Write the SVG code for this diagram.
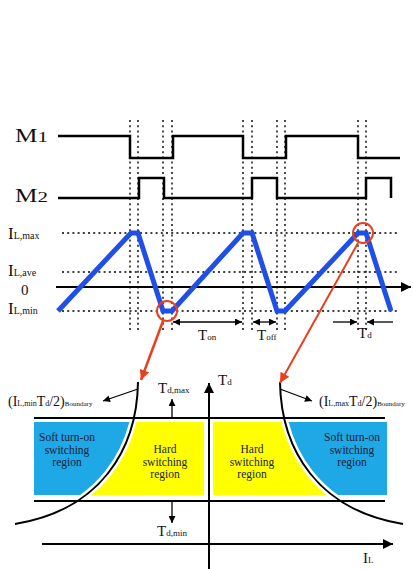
<svg xmlns="http://www.w3.org/2000/svg" width="413" height="569" viewBox="0 0 413 569">
<style>
text{font-family:"Liberation Serif","Times New Roman",serif;fill:#111}
.big{font-size:17px}
.sub{font-size:10px}
.rt{font-size:11.5px;fill:#1a1a3a;text-anchor:middle}
.sig{fill:none;stroke:#000;stroke-width:2.5}
.dot{fill:none;stroke:#000;stroke-width:1.4;stroke-dasharray:2 3.2}
.ln{fill:none;stroke:#000;stroke-width:2}
.thin{fill:none;stroke:#000;stroke-width:1.3}
</style>
<defs>
<marker id="ahs" viewBox="0 0 10 10" refX="10" refY="5" markerWidth="9" markerHeight="7" markerUnits="userSpaceOnUse" orient="auto-start-reverse"><path d="M0,0 L10,5 L0,10 z" fill="#000"/></marker>
<marker id="ahb" viewBox="0 0 10 10" refX="10" refY="5" markerWidth="14" markerHeight="10" markerUnits="userSpaceOnUse" orient="auto"><path d="M0,0 L10,5 L0,10 z" fill="#000"/></marker>
<marker id="ahr" viewBox="0 0 10 10" refX="10" refY="5" markerWidth="13" markerHeight="10" markerUnits="userSpaceOnUse" orient="auto"><path d="M0,0 L10,5 L0,10 z" fill="#e8401f"/></marker>
<clipPath id="clipL"><rect x="34" y="422" width="170" height="73"/></clipPath>
<clipPath id="clipR"><rect x="213" y="422" width="174" height="73"/></clipPath>
</defs>

<g id="timing-guides">
<path class="dot" d="M130 120V332M138 120V332M163 120V332M172 120V332M243 120V332M252 120V332M277 120V332M285 120V332M358 120V332M366 120V332"/>
<path class="dot" d="M62 233H400M62 272H400M62 311H400"/>
</g>

<g id="M1">
<text x="15" y="142" textLength="33" lengthAdjust="spacingAndGlyphs"><tspan font-size="18">M</tspan><tspan font-size="15">1</tspan></text>
<path class="sig" d="M58 136H130V158H173V136H243V158H286V136H358V158H400"/>
</g>
<g id="M2">
<text x="15" y="202" textLength="33" lengthAdjust="spacingAndGlyphs"><tspan font-size="18">M</tspan><tspan font-size="15">2</tspan></text>
<path class="sig" d="M58 198H139V178H164V198H252V178H277V198H366V178H391V198"/>
</g>

<g id="current-axis">
<line class="ln" x1="56" y1="287" x2="411" y2="287" stroke-width="3" marker-end="url(#ahb)"/>
<text x="8" y="239"><tspan class="big">I</tspan><tspan class="sub">L,max</tspan></text>
<text x="8" y="276"><tspan class="big">I</tspan><tspan class="sub">L,ave</tspan></text>
<text x="21" y="295" font-size="15">0</text>
<text x="8" y="314"><tspan class="big">I</tspan><tspan class="sub">L,min</tspan></text>
</g>

<g id="inductor-current">
<polyline points="58,311 131,233 138,233 163,311 172,311 243,233 252,233 277,311 285,311 358,233 366,233 391,311" fill="none" stroke="#1f4fe6" stroke-width="5"/>
</g>

<g id="time-markers">
<line class="thin" x1="173" y1="322" x2="242" y2="322" marker-start="url(#ahs)" marker-end="url(#ahs)"/>
<text x="198" y="340"><tspan font-size="15">T</tspan><tspan font-size="9">on</tspan></text>
<line class="thin" x1="253" y1="322" x2="276" y2="322" marker-start="url(#ahs)" marker-end="url(#ahs)"/>
<text x="257" y="340"><tspan font-size="15">T</tspan><tspan font-size="9">off</tspan></text>
<line class="thin" x1="333" y1="322" x2="357" y2="322" marker-end="url(#ahs)"/>
<line class="thin" x1="393" y1="322" x2="367" y2="322" marker-end="url(#ahs)"/>
<text x="358" y="338"><tspan font-size="15">T</tspan><tspan font-size="9">d</tspan></text>
</g>

<g id="highlight-min">
<circle cx="167" cy="311" r="10" fill="none" stroke="#e8401f" stroke-width="2"/>
</g>
<g id="highlight-max">
<circle cx="363" cy="233" r="10" fill="none" stroke="#e8401f" stroke-width="2"/>
</g>

<g id="left-panel">
<g clip-path="url(#clipL)">
<rect x="34" y="422" width="170" height="73" fill="#1ea8e6"/>
<path d="M138 382C137 450 100 510 15 524L204 524L204 382Z" fill="#ffff00"/>
<path d="M138 382C137 450 100 510 15 524" fill="none" stroke="#fff" stroke-width="7"/>
</g>
<text class="rt" x="67" y="441">Soft turn-on</text>
<text class="rt" x="67" y="453.5">switching</text>
<text class="rt" x="67" y="466">region</text>
<text class="rt" x="165" y="453">Hard</text>
<text class="rt" x="165" y="465.5">switching</text>
<text class="rt" x="165" y="478">region</text>
</g>

<g id="right-panel">
<g clip-path="url(#clipR)">
<rect x="213" y="422" width="174" height="73" fill="#ffff00"/>
<path d="M280 382C281 450 318 510 403 524L420 524L420 382Z" fill="#1ea8e6"/>
<path d="M280 382C281 450 318 510 403 524" fill="none" stroke="#fff" stroke-width="7"/>
</g>
<text class="rt" x="252" y="453">Hard</text>
<text class="rt" x="252" y="465.5">switching</text>
<text class="rt" x="252" y="478">region</text>
<text class="rt" x="352" y="441">Soft turn-on</text>
<text class="rt" x="352" y="453.5">switching</text>
<text class="rt" x="352" y="466">region</text>
</g>

<g id="td-limits">
<line class="ln" x1="34" y1="418" x2="385" y2="418"/>
<line class="ln" x1="34" y1="501" x2="385" y2="501"/>
<text x="158" y="393"><tspan font-size="15">T</tspan><tspan font-size="9">d,max</tspan></text>
<text x="157" y="536"><tspan font-size="15">T</tspan><tspan font-size="9">d,min</tspan></text>
</g>

<g id="boundary-left">
<path class="ln" d="M138 382C137 450 100 510 15 524"/>
<text x="8" y="406"><tspan font-size="14">(I</tspan><tspan font-size="8">L,min</tspan><tspan font-size="14">T</tspan><tspan font-size="8">d</tspan><tspan font-size="14">/2)</tspan><tspan font-size="7">Boundary</tspan></text>
</g>
<g id="boundary-right">
<path class="ln" d="M280 382C281 450 318 510 403 524"/>
<text x="319" y="406"><tspan font-size="14">(I</tspan><tspan font-size="8">L,max</tspan><tspan font-size="14">T</tspan><tspan font-size="8">d</tspan><tspan font-size="14">/2)</tspan><tspan font-size="7">Boundary</tspan></text>
</g>

<g id="axes">
<line class="ln" x1="209" y1="569" x2="209" y2="383" stroke-width="2.5" marker-end="url(#ahb)"/>
<text x="218" y="385"><tspan font-size="15">T</tspan><tspan font-size="9">d</tspan></text>
<line class="ln" x1="42" y1="544" x2="393" y2="544" marker-end="url(#ahb)"/>
<text x="363" y="563"><tspan font-size="15">I</tspan><tspan font-size="9">L</tspan></text>
</g>

<g id="connectors">
<line x1="163" y1="321" x2="141" y2="380" stroke="#e8401f" stroke-width="2.5" marker-end="url(#ahr)"/>
<line x1="358" y1="243" x2="280" y2="383" stroke="#e8401f" stroke-width="2" marker-end="url(#ahr)"/>
<line class="thin" x1="138" y1="389" x2="103" y2="401" marker-end="url(#ahs)"/>
<line class="thin" x1="280" y1="389" x2="312" y2="401" marker-end="url(#ahs)"/>
<line class="thin" x1="172" y1="418" x2="172" y2="399" marker-end="url(#ahs)"/>
<line class="thin" x1="172" y1="501" x2="172" y2="523" marker-end="url(#ahs)"/>
</g>
</svg>
